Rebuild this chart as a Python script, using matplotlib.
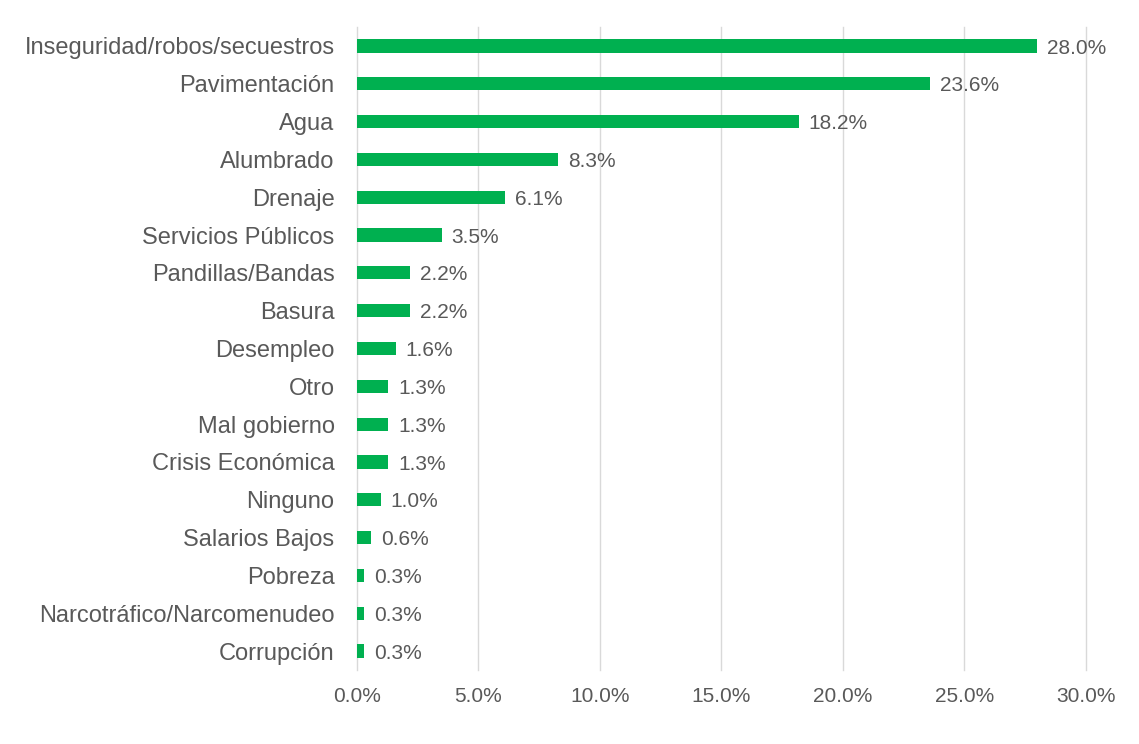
import matplotlib
matplotlib.use("Agg")
import matplotlib.pyplot as plt
from matplotlib.ticker import FuncFormatter, MultipleLocator

categories = ["Inseguridad/robos/secuestros", "Pavimentación", "Agua", "Alumbrado",
              "Drenaje", "Servicios Públicos", "Pandillas/Bandas", "Basura",
              "Desempleo", "Otro", "Mal gobierno", "Crisis Económica", "Ninguno",
              "Salarios Bajos", "Pobreza", "Narcotráfico/Narcomenudeo", "Corrupción"]
values = [28.0, 23.6, 18.2, 8.3, 6.1, 3.5, 2.2, 2.2, 1.6, 1.3, 1.3, 1.3, 1.0,
          0.6, 0.3, 0.3, 0.3]

plt.rcParams['font.family'] = ['Liberation Sans', 'DejaVu Sans']
txt = '#595959'
green = '#00B050'

fig = plt.figure(figsize=(11.39, 7.44), dpi=100)
ax = fig.add_axes([0.3132, 0.0995, 0.9532 - 0.3132, 0.9637 - 0.0995])

ypos = list(range(len(categories)))
ax.barh(ypos, values, height=0.35, color=green, zorder=3)
ax.set_yticks(ypos)
ax.set_yticklabels(categories, fontsize=17, color=txt)
ax.set_ylim(len(categories) - 0.5, -0.5)
ax.set_xlim(0, 30)
ax.xaxis.set_major_locator(MultipleLocator(5))
ax.xaxis.set_major_formatter(FuncFormatter(lambda v, p: f"{v:.1f}%"))
ax.tick_params(axis='x', labelsize=15, colors=txt, length=0, pad=12)
ax.tick_params(axis='y', length=0, pad=16)
ax.grid(axis='x', color='#D9D9D9', linewidth=1, zorder=0)
for gl in ax.get_xgridlines():
    gl.set_clip_on(False)
for s in ax.spines.values():
    s.set_visible(False)

for y, v in zip(ypos, values):
    ax.annotate(f"{v:.1f}%", xy=(v, y), xytext=(7, -1.5), textcoords='offset points',
                va='center', ha='left', fontsize=15, color=txt)

fig.savefig("out.png", dpi=100)
